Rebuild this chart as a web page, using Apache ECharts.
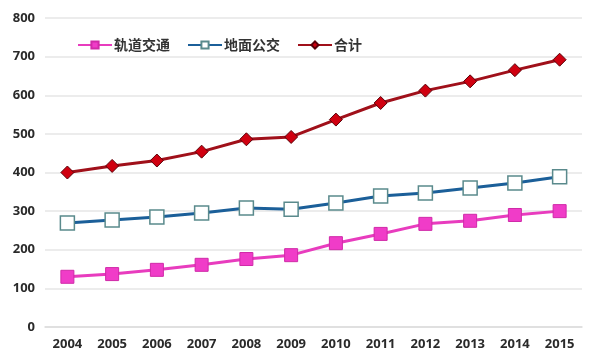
<!DOCTYPE html>
<html><head><meta charset="utf-8">
<script src="https://cdn.jsdelivr.net/npm/echarts@6/dist/echarts.min.js"></script>
<style>html,body{margin:0;padding:0;background:#fff}#c{width:600px;height:360px}</style>
</head><body><div id="c"></div>
<script>
const years = ['2004','2005','2006','2007','2008','2009','2010','2011','2012','2013','2014','2015'];
const rail = [130,137,148,161,176,186,217,241,267,275,290,300];
const bus = [269,277,285,295,308,305,321,339,347,360,373,389];
const total = [400,417,431,454,486,492,537,580,612,636,665,692];
const yTicks = [0,100,200,300,400,500,600,700,800];

const chart = echarts.init(document.getElementById('c'));
chart.setOption({
  animation: false,
  grid: {left: 45, right: 18, top: 18, bottom: 33},
  legend: {
    left: 72, top: 33, itemWidth: 34, itemHeight: 9, itemGap: 17,
    textStyle: {fontFamily: 'Noto Sans CJK SC', fontSize: 14, fontWeight: 'bold', color: '#333', padding: [0, 0, 0, -3]},
    data: ['轨道交通','地面公交','合计']
  },
  xAxis: {
    type: 'category', data: years, boundaryGap: true,
    axisLine: {lineStyle: {color: '#dcdcdc', width: 1.5}}, axisTick: {show: false},
    axisLabel: {color: '#2a2a2a', fontSize: 13, fontWeight: 'bold', fontFamily: 'Noto Sans', margin: 11}
  },
  yAxis: {
    type: 'value', min: 0, max: 800, interval: 100,
    axisLine: {show: false}, axisTick: {show: false},
    splitLine: {lineStyle: {color: '#e6e6e6', width: 1.5}},
    axisLabel: {color: '#2a2a2a', fontSize: 13, fontWeight: 'bold', fontFamily: 'Noto Sans', margin: 10,
      formatter: v => yTicks.includes(v) ? String(v) : ''}
  },
  series: [
    {name: '轨道交通', type: 'line', data: rail, symbol: 'rect', symbolSize: 13,
      lineStyle: {color: '#E83CBE', width: 3}, itemStyle: {color: '#F03CC8', borderColor: '#D02AA8', borderWidth: 1}},
    {name: '地面公交', type: 'line', data: bus, symbol: 'rect', symbolSize: 14,
      lineStyle: {color: '#1B5F99', width: 3}, itemStyle: {color: '#ffffff', borderColor: '#5A8A8C', borderWidth: 1.5}},
    {name: '合计', type: 'line', data: total, symbol: 'diamond', symbolSize: 13,
      lineStyle: {color: '#A0101A', width: 3}, itemStyle: {color: '#D00010', borderColor: '#5a0008', borderWidth: 1}}
  ]
});
</script></body></html>
